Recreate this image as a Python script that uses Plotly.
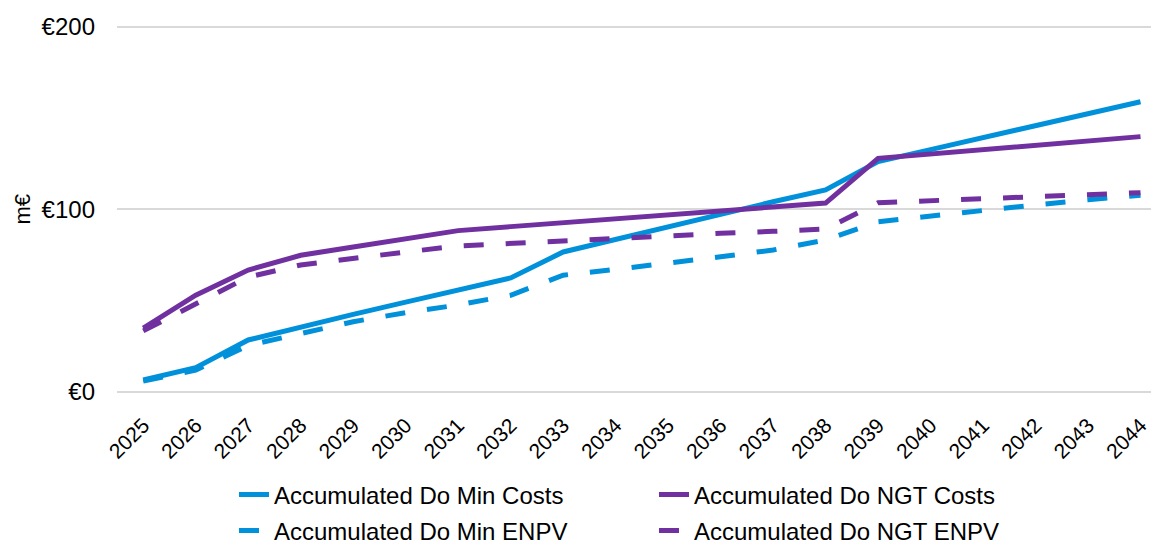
import plotly.graph_objects as go

years = [str(y) for y in range(2025, 2045)]

min_costs = [6.6, 13.3, 28.5, 35.8, 42.5, 49.2, 55.9, 62.5, 76.7, 83.7, 90.6, 97.6, 104.2, 110.7,
             126.2, 132.8, 139.4, 146.0, 152.5, 159.0]
ngt_costs = [35.0, 53.0, 66.8, 74.9, 79.4, 83.9, 88.4, 90.6, 92.7, 94.9, 97.1, 99.2, 101.4, 103.5,
             128.0, 130.4, 132.8, 135.2, 137.6, 139.9]
min_enpv = [6.0, 12.0, 25.5, 32.0, 38.5, 43.5, 47.7, 53.0, 64.0, 67.2, 70.5, 74.1, 77.8, 83.3,
            93.3, 96.5, 99.5, 102.5, 105.3, 107.8]
ngt_enpv = [33.5, 48.6, 63.0, 69.6, 73.3, 76.7, 80.0, 81.5, 82.6, 84.2, 85.7, 86.9, 88.0, 89.3,
            103.7, 104.9, 105.9, 107.0, 108.0, 109.2]

y_tickvals = [0, 100, 200]
y_ticktext = ["€0", "€100", "€200"]

BLUE = "#0091DA"
PURPLE = "#7030A0"
FONT = "Liberation Sans, Arial, sans-serif"
DASH = "20px,22px"

fig = go.Figure()
fig.add_trace(go.Scatter(x=years, y=min_costs, mode="lines", name="Accumulated Do Min Costs",
                         line=dict(color=BLUE, width=5), legend="legend"))
fig.add_trace(go.Scatter(x=years, y=ngt_costs, mode="lines", name="Accumulated Do NGT Costs",
                         line=dict(color=PURPLE, width=5), legend="legend"))
fig.add_trace(go.Scatter(x=years, y=min_enpv, mode="lines", name="Accumulated Do Min ENPV",
                         line=dict(color=BLUE, width=5, dash=DASH), legend="legend2"))
fig.add_trace(go.Scatter(x=years, y=ngt_enpv, mode="lines", name="Accumulated Do NGT ENPV",
                         line=dict(color=PURPLE, width=5, dash=DASH), legend="legend2"))

W, H = 1151, 546
L, T, B = 117, 24, 154
pw = W - L
ph = H - B - T

legend_common = dict(orientation="h", font=dict(family=FONT, size=24, color="#000000"),
                     entrywidth=375, entrywidthmode="pixels", bgcolor="rgba(0,0,0,0)",
                     xanchor="left", yanchor="middle", itemclick=False, itemdoubleclick=False)

fig.update_layout(
    width=W, height=H,
    margin=dict(l=L, r=0, t=T, b=B, pad=0, autoexpand=False),
    paper_bgcolor="white", plot_bgcolor="white",
    font=dict(family=FONT, size=22, color="#000000"),
    showlegend=True,
    legend=dict(**legend_common, x=(234 - L) / pw, y=-(495 - (H - B)) / ph),
    legend2=dict(**legend_common, x=(234 - L) / pw, y=-(531 - (H - B)) / ph),
    xaxis=dict(type="category", range=[-0.5, 19.2], showgrid=False, showline=False, zeroline=False,
               tickangle=-45, ticks="", ticklabelstandoff=16,
               tickfont=dict(family=FONT, size=21, color="#000000")),
    yaxis=dict(range=[0, 201.6], tickmode="array", tickvals=y_tickvals, ticktext=y_ticktext,
               showgrid=True, gridcolor="#D9D9D9", gridwidth=1.5, zeroline=True,
               zerolinecolor="#D9D9D9", zerolinewidth=1.5, showline=False, ticks="",
               ticklabelstandoff=21, tickfont=dict(family=FONT, size=24, color="#000000")),
    annotations=[dict(text="m€", xref="paper", yref="paper", x=(22 - L) / pw, y=(392 - 209.5) / ph,
                      xanchor="center", yanchor="middle", textangle=-90, showarrow=False,
                      font=dict(family=FONT, size=22, color="#000000"))],
)

fig.write_html("out.html")
